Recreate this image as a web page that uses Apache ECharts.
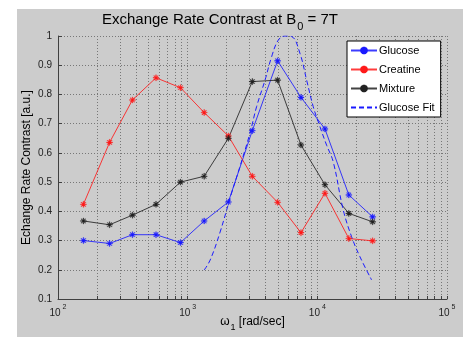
<!DOCTYPE html>
<html>
<head>
<meta charset="utf-8">
<script src="https://cdn.jsdelivr.net/npm/echarts@6/dist/echarts.min.js"></script>
<style>
html,body{margin:0;padding:0;background:#fff;}
#c{width:463px;height:337px;}
</style>
</head>
<body>
<div id="c"></div>
<script>
// ---- data ----
const omega = [157, 250, 375, 570, 880, 1340, 2060, 3150, 4940, 7480, 11450, 17500, 26700];
const glucose = [0.300, 0.290, 0.320, 0.320, 0.293, 0.367, 0.432, 0.676, 0.915, 0.790, 0.682, 0.456, 0.381];
const creatine = [0.424, 0.636, 0.781, 0.857, 0.823, 0.738, 0.658, 0.520, 0.431, 0.327, 0.462, 0.307, 0.299];
const mixture = [0.367, 0.354, 0.387, 0.424, 0.500, 0.520, 0.650, 0.844, 0.849, 0.627, 0.491, 0.393, 0.364];
const fitOmega = [1340, 1490, 1770, 2180, 2530, 3020, 3400, 3950, 4440, 5000, 5630, 6340, 7340, 8270, 9300, 10470, 11800, 13250, 15840, 18380, 21290, 26230];
const fitValues = [0.199, 0.233, 0.326, 0.462, 0.553, 0.667, 0.758, 0.849, 0.929, 0.986, 1.0, 0.998, 0.941, 0.849, 0.758, 0.690, 0.626, 0.570, 0.405, 0.313, 0.245, 0.165];
const seriesNames = ['Glucose', 'Creatine', 'Mixture', 'Glucose Fit'];
const xMajorTicks = [100, 1000, 10000, 100000];
const xAllTicks = [100,200,300,400,500,600,700,800,900,1000,2000,3000,4000,5000,6000,7000,8000,9000,10000,20000,30000,40000,50000,60000,70000,80000,90000,100000];
const yMin = 0.1, yMax = 1, yStep = 0.1;

const pairs = (xs, ys) => xs.map((x, i) => [x, ys[i]]);
const star = 'path://M0,4.5L10,4.5L10,5.5L0,5.5Z M4.5,0L5.5,0L5.5,10L4.5,10Z M1.1,1.8L1.8,1.1L8.9,8.2L8.2,8.9Z M8.2,1.1L8.9,1.8L1.8,8.9L1.1,8.2Z';
const FONT = 'Liberation Sans, Arial, sans-serif';

function lineSeries(name, ys, color) {
  return {
    name, type: 'line', data: pairs(omega, ys),
    symbol: star, symbolSize: 6, showSymbol: true,
    lineStyle: { color, width: 1, opacity: 0.85 },
    itemStyle: { color, borderColor: color, borderWidth: 0.4 },
    emphasis: { disabled: true }, animation: false
  };
}

const chart = echarts.init(document.getElementById('c'), null, { renderer: 'canvas' });
chart.setOption({
  animation: false,
  backgroundColor: '#ffffff',
  graphic: [{
    type: 'rect', z: -10, silent: true,
    shape: { x: 17, y: 9, width: 446, height: 328 },
    style: { fill: '#cccccc' }
  }],
  title: {
    text: '{t|Exchange Rate Contrast at B}{s|0}{t| = 7T}',
    left: 97, top: 7,
    textStyle: {
      fontWeight: 'normal',
      rich: {
        t: { fontFamily: FONT, fontSize: 15, fontWeight: 'normal', color: '#000', lineHeight: 20, verticalAlign: 'top' },
        s: { fontFamily: FONT, fontSize: 11, fontWeight: 'normal', color: '#000', lineHeight: 20, verticalAlign: 'bottom', padding: [0, 0, 0, 1] }
      }
    }
  },
  grid: { left: 58, right: 16, top: 36, bottom: 38, containLabel: false },
  legend: {
    orient: 'vertical', left: 347, top: 41,
    data: [
      { name: 'Glucose', icon: 'inherit' },
      { name: 'Creatine', icon: 'inherit' },
      { name: 'Mixture', icon: 'inherit' },
      { name: 'Glucose Fit', itemStyle: { opacity: 0 } }
    ],
    backgroundColor: '#ffffff', borderColor: '#000', borderWidth: 1,
    padding: [4, 6, 4, 3], itemWidth: 26, itemHeight: 7, itemGap: 8,
    textStyle: { fontFamily: FONT, fontSize: 11, color: '#000', padding: [0, 0, 0, -3] }
  },
  xAxis: {
    type: 'log', logBase: 10, min: 100, max: 100000,
    name: '{w|ω}{sub|1}{n| [rad/sec]}',
    nameLocation: 'middle', nameGap: 17, nameMoveOverlap: false,
    nameTextStyle: {
      rich: {
        w: { fontFamily: FONT, fontSize: 12, color: '#000', lineHeight: 16, verticalAlign: 'top' },
        sub: { fontFamily: FONT, fontSize: 9, color: '#000', lineHeight: 16, verticalAlign: 'bottom', padding: [0, 0, 0, 1] },
        n: { fontFamily: FONT, fontSize: 12, color: '#000', lineHeight: 16, verticalAlign: 'top' }
      }
    },
    axisLine: { show: true, lineStyle: { color: '#404040', width: 1 } },
    axisTick: { show: true, inside: true, length: 3, customValues: xAllTicks, lineStyle: { color: '#404040' } },
    axisLabel: {
      customValues: xMajorTicks, margin: 5,
      formatter: v => '{b|10}{p|' + Math.round(Math.log10(v)) + '}',
      rich: {
        b: { fontFamily: FONT, fontSize: 10, color: '#222', lineHeight: 14, verticalAlign: 'bottom' },
        p: { fontFamily: FONT, fontSize: 7, color: '#222', lineHeight: 14, verticalAlign: 'top', padding: [0, 0, 0, 2] }
      }
    },
    splitLine: { show: true, lineStyle: { color: '#777', type: [1, 2], width: 1 } },
    minorTick: { show: false }, minorSplitLine: { show: false }
  },
  yAxis: {
    type: 'value', min: yMin, max: yMax, interval: yStep,
    name: 'Echange Rate Contrast [a.u.]',
    nameLocation: 'middle', nameGap: 25, nameMoveOverlap: false,
    nameTextStyle: { fontFamily: FONT, fontSize: 12, color: '#000' },
    axisLine: { show: true, lineStyle: { color: '#404040', width: 1 } },
    axisTick: { show: true, inside: true, length: 4, lineStyle: { color: '#404040' } },
    axisLabel: {
      fontFamily: FONT, fontSize: 10, color: '#222', margin: 6,
      formatter: v => (Math.abs(v - 1) < 1e-9 ? '1' : v.toFixed(1))
    },
    splitLine: { show: true, lineStyle: { color: '#777', type: [1, 2], width: 1 } }
  },
  series: [
    lineSeries('Glucose', glucose, '#1a1aff'),
    lineSeries('Creatine', creatine, '#ff1a1a'),
    lineSeries('Mixture', mixture, '#222222'),
    {
      name: 'Glucose Fit', type: 'line', data: pairs(fitOmega, fitValues),
      symbol: 'none', smooth: 0.4,
      lineStyle: { color: '#1a1aff', width: 1, type: [5, 3] },
      itemStyle: { color: '#1a1aff' },
      emphasis: { disabled: true }, animation: false, clip: true
    }
  ]
});
</script>
</body>
</html>
